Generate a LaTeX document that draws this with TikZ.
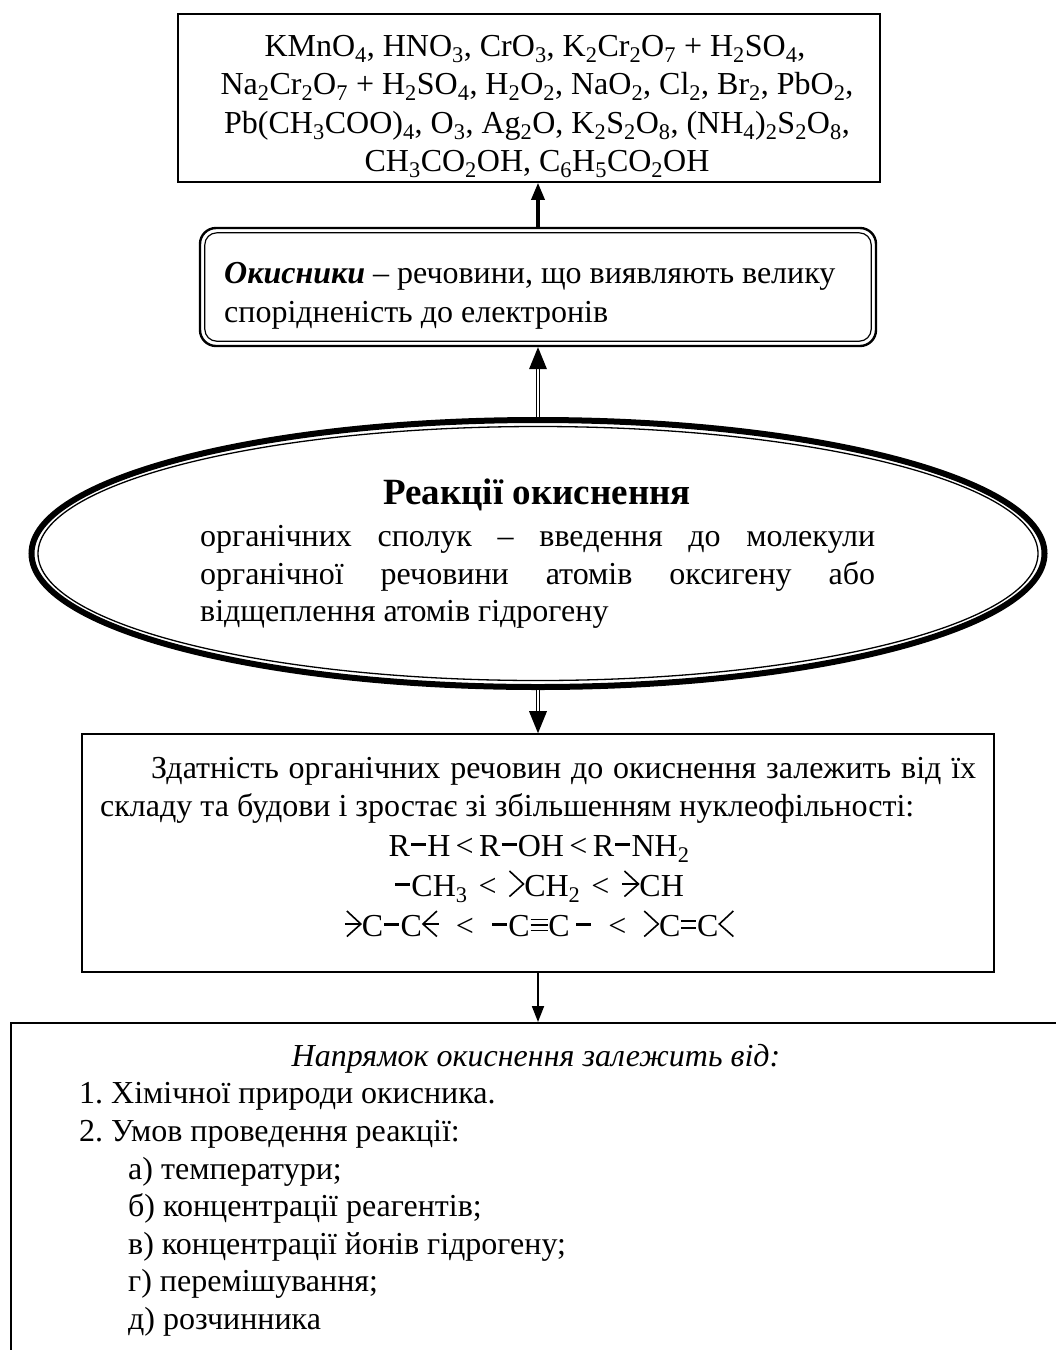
\documentclass[tikz,border=0pt]{standalone}
\usepackage{fontspec}
\setmainfont{Liberation Serif}
\usetikzlibrary{arrows.meta,calc,shapes.geometric}
\frenchspacing

% chemical subscripts
\newcommand\chs[1]{\textsubscript{#1}}
% bond glyphs drawn as small inline pictures (baseline at 0, cap height about 21pt)
\newcommand\bsingle{\tikz[baseline=0pt,x=1pt,y=1pt]\draw[line width=2.4pt](0,11.5)--(15,11.5);}
\newcommand\bdouble{\tikz[baseline=0pt,x=1pt,y=1pt]{\draw[line width=1.8pt](0,8)--(15,8);\draw[line width=1.8pt](0,15)--(15,15);}}
\newcommand\btriple{\tikz[baseline=0pt,x=1pt,y=1pt]{\draw[line width=1.6pt](0,5.5)--(17,5.5);\draw[line width=1.6pt](0,11)--(17,11);\draw[line width=1.6pt](0,16.5)--(17,16.5);}}
\newcommand\twoleft{\tikz[baseline=0pt,x=1pt,y=1pt]\draw[line width=1.6pt](0,25)--(14,12)--(0,-0.5);}
\newcommand\tworight{\tikz[baseline=0pt,x=1pt,y=1pt]\draw[line width=1.6pt](14,25)--(0,12)--(14,-0.5);}
\newcommand\threeleft{\tikz[baseline=0pt,x=1pt,y=1pt]{\draw[line width=1.6pt](0,25)--(14,12)--(0,-0.5);\draw[line width=2pt](-2,12)--(14,12);}}
\newcommand\threeright{\tikz[baseline=0pt,x=1pt,y=1pt]{\draw[line width=1.6pt](14,25)--(0,12)--(14,-0.5);\draw[line width=2pt](0,12)--(16,12);}}
% comparison sign with the spacing of the formula lines
\newcommand\ltm{\hspace{11pt}<\hspace{12pt}}
\newcommand\ltw{\hspace{16pt}<\hspace{17pt}}

\begin{document}
\begin{tikzpicture}[x=1pt,y=-1pt,
  every node/.style={inner sep=0pt},
  body/.style={font=\fontsize{32}{38.5}\selectfont},
  frame/.style={draw, line width=1.6pt},
  headarrow/.style={-{Triangle[length=17pt,width=13pt]}, line width=3.4pt},
  thinarrow/.style={-{Triangle[length=16pt,width=12pt]}, line width=1.8pt},
  shaft/.style={draw, line width=1.1pt, double, double distance=2.6pt},
]
\useasboundingbox (0,0) rectangle (1056,1350);
\coordinate (axis) at (538,0);

% list of oxidants
\node[frame, minimum width=702pt, minimum height=168pt] (ox) at (529,98) {};
\node[body, anchor=base] (ox1) at (535,56) {KMnO\chs4, HNO\chs3, CrO\chs3, K\chs2Cr\chs2O\chs7 + H\chs2SO\chs4,};
\node[body, anchor=base] (ox2) at (537,94.5) {Na\chs2Cr\chs2O\chs7 + H\chs2SO\chs4, H\chs2O\chs2, NaO\chs2, Cl\chs2, Br\chs2, PbO\chs2,};
\node[body, anchor=base] (ox3) at (537,133) {Pb(CH\chs3COO)\chs4, O\chs3, Ag\chs2O, K\chs2S\chs2O\chs8, (NH\chs4)\chs2S\chs2O\chs8,};
\node[body, anchor=base] (ox4) at (537,171.5) {CH\chs3CO\chs2OH, C\chs6H\chs5CO\chs2OH};

% definition of oxidants, double rounded frame
\node[draw, line width=2.4pt, rounded corners=16pt, minimum width=676pt, minimum height=118pt] (okb) at (538,287) {};
\draw[line width=1.2pt, rounded corners=12pt] ($(okb.north west)+(6,6)$) rectangle ($(okb.south east)+(-6,-6)$);
\node[body, anchor=base west] (ok1) at (224,283) {\textbf{\textit{Окисники}} – речовини, що виявляють велику};
\node[body, anchor=base west] (ok2) at (224,322) {спорідненість до електронів};

% central ellipse with thick-thin border
\node[ellipse, draw, line width=6pt, minimum width=1013pt, minimum height=267pt] (ell) at (538,553.5) {};
\draw[line width=1.3pt] (ell.center) ellipse [x radius=500, y radius=127];
\node[font=\bfseries\fontsize{37}{42}\selectfont, anchor=base] (ttl) at (537,504) {Реакції окиснення};
\node[body, anchor=base west] (el1) at (200,546) {\makebox[675pt][s]{органічних сполук – введення до молекули}};
\node[body, anchor=base west] (el2) at (200,584) {\makebox[675pt][s]{органічної речовини атомів оксигену або}};
\node[body, anchor=base west] (el3) at (200,621) {відщеплення атомів гідрогену};

% reactivity box
\node[frame, minimum width=912pt, minimum height=238pt] (dep) at (538,853) {};
\node[body, anchor=base west] (dp1) at (151,778) {\makebox[825pt][s]{Здатність органічних речовин до окиснення залежить від їх}};
\node[body, anchor=base west] (dp2) at (100,816.5) {складу та будови і зростає зі збільшенням нуклеофільності:};
\node[body, anchor=base] (fm1) at (539,856) {R\bsingle H\,<\,R\bsingle OH\,<\,R\bsingle NH\chs2};
\node[body, anchor=base] (fm2) at (539,896) {\bsingle CH\chs3\ltm\twoleft CH\chs2\ltm\threeleft CH};
\node[body, anchor=base] (fm3) at (539,936) {\threeleft C\bsingle C\threeright\ltw\bsingle C\btriple C\,\bsingle\ltw\twoleft C\bdouble C\tworight};

% direction of oxidation
\node[frame, anchor=north west, minimum width=1100pt, minimum height=400pt] (dir) at (10,1022) {};
\node[body, anchor=base] (dr0) at (536,1066) {\textit{Напрямок окиснення залежить від:}};
\node[body, anchor=base west] (dr1) at (79,1103) {1. Хімічної природи окисника.};
\node[body, anchor=base west] (dr2) at (79,1141) {2. Умов проведення реакції:};
\node[body, anchor=base west] (dra) at (128,1179) {а) температури;};
\node[body, anchor=base west] (drb) at (128,1216) {б) концентрації реагентів;};
\node[body, anchor=base west] (drc) at (128,1254) {в) концентрації йонів гідрогену;};
\node[body, anchor=base west] (drd) at (128,1291) {г) перемішування;};
\node[body, anchor=base west] (dre) at (128,1329) {д) розчинника};

% connectors
\draw[headarrow] (axis |- okb.north) -- (axis |- ox.south);
\draw[shaft] (axis |- ell.north) -- ($(axis |- okb.south)+(0,20)$);
\fill (axis |- okb.south) -- ++(-9,22) -- ++(18,0) -- cycle;
\draw[shaft] (axis |- ell.south) -- ($(axis |- dep.north)+(0,-20)$);
\fill (axis |- dep.north) -- ++(-9,-22) -- ++(18,0) -- cycle;
\draw[thinarrow] (axis |- dep.south) -- (axis |- dir.north);
\end{tikzpicture}
\end{document}
